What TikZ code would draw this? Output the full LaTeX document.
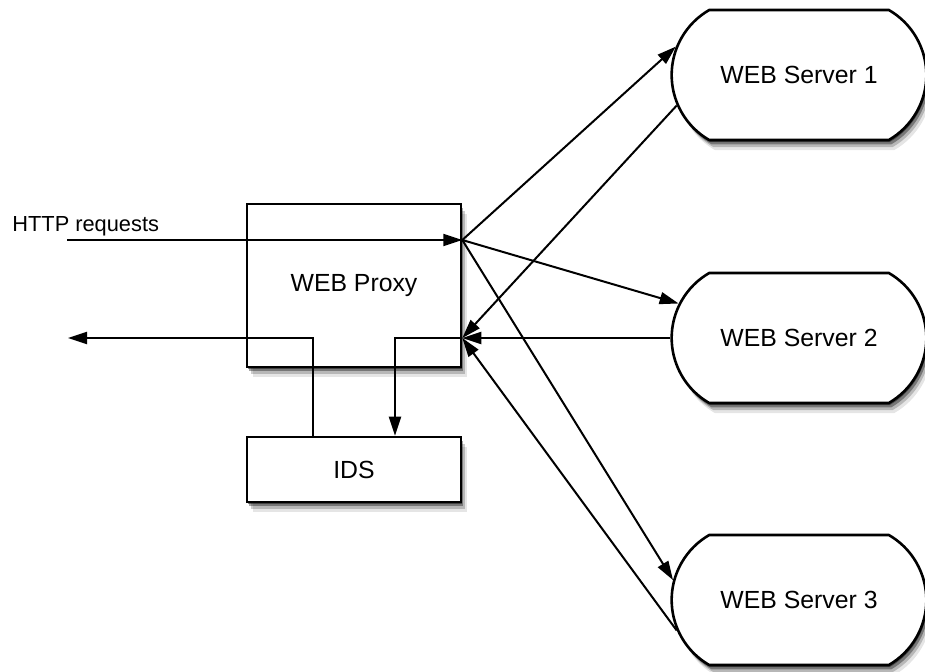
\documentclass[tikz,border=0pt]{standalone}
\usepackage{fontspec}
\setmainfont{Liberation Sans}
\usetikzlibrary{arrows.meta,shapes.misc,shadows}
\tikzset{
  soft/.style={drop shadow={shadow xshift=0.5pt,shadow yshift=-1pt,fill=black,opacity=.45},
    drop shadow={shadow xshift=1.2pt,shadow yshift=-2.2pt,fill=black,opacity=.35},
    drop shadow={shadow xshift=2pt,shadow yshift=-3.5pt,fill=black,opacity=.2},
    drop shadow={shadow xshift=2.8pt,shadow yshift=-5pt,fill=black,opacity=.1}},
  box/.style={draw,line width=1.3pt,fill=white,soft},
  server/.style={box,rounded rectangle,rounded rectangle arc length=120,
    minimum width=134pt,minimum height=65pt},
  link/.style={line width=1pt,-{Triangle[length=9.5pt,width=6pt]}},
}
\begin{document}
\begin{tikzpicture}[x=0.5pt,y=-0.5pt,font=\fontsize{12.4}{15}\selectfont]
  \useasboundingbox (0,0) rectangle (925,671);
  \node[box,minimum width=107pt,minimum height=81.5pt] (proxy) at (354,285.5) {WEB Proxy};
  \node[box,minimum width=107pt,minimum height=32.5pt] (ids) at (354,469.5) {IDS};
  \node[server] (s1) at (799,75) {WEB Server 1};
  \node[server] (s2) at (799,338) {WEB Server 2};
  \node[server] (s3) at (799,600) {WEB Server 3};
  \coordinate (in) at ([yshift=22.75pt]proxy.east);
  \coordinate (out) at ([yshift=-26.25pt]proxy.east);
  \coordinate (src) at (67,240);
  \coordinate (sink) at (68,338);
  \node[anchor=base west,inner sep=0pt,font=\fontsize{10.9}{13}\selectfont] (http) at (12,231) {HTTP requests};
  % requests in, spread to the servers
  \draw[link] (src) -- (in);
  \draw[link] (in) -- (s1.167);
  \draw[link] (in) -- (s2.164);
  \draw[link] (in) -- (s3.171);
  % replies back
  \draw[link] (s1.194) -- (out);
  \draw[link] (s2.west) -- (out);
  \draw[link] (s3.194) -- (out);
  % through the IDS
  \draw[link] (out) -| ([xshift=20.5pt]ids.north);
  \draw[link] ([xshift=-20.5pt]ids.north) |- (sink);
\end{tikzpicture}
\end{document}
